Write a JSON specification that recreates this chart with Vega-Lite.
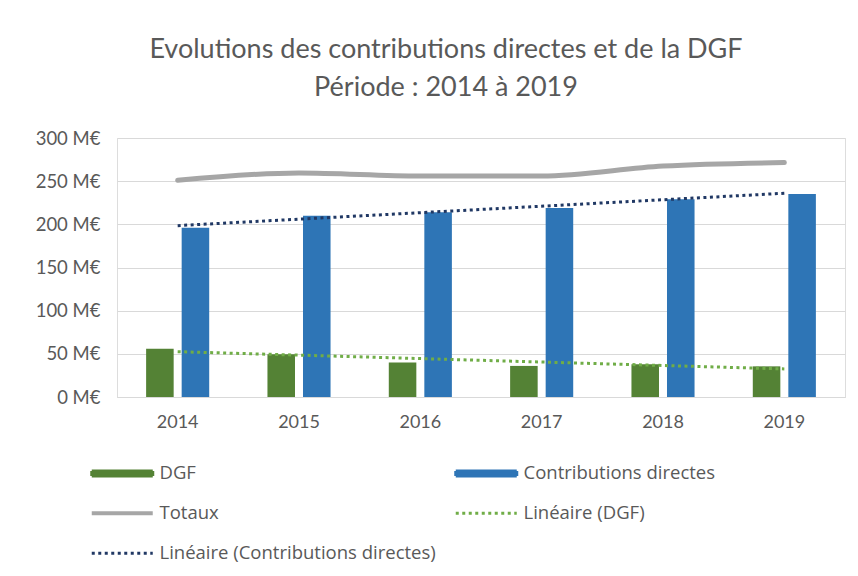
{
  "$schema": "https://vega.github.io/schema/vega-lite/v6.json",
  "width": 728,
  "height": 259,
  "autosize": "none",
  "padding": {"left": 117, "top": 138, "right": 13, "bottom": 179},
  "background": "white",
  "title": {
    "text": ["Evolutions des contributions directes et de la DGF", "Période : 2014 à 2019"],
    "fontSize": 27,
    "font": "Lato",
    "fontWeight": "normal",
    "color": "#595959",
    "lineHeight": 38,
    "anchor": "middle",
    "dx": -35,
    "offset": 27
  },
  "data": {
    "values": [
      {"Annee": 2014, "serie": "DGF", "valeur": 56},
      {"Annee": 2015, "serie": "DGF", "valeur": 49.5},
      {"Annee": 2016, "serie": "DGF", "valeur": 40},
      {"Annee": 2017, "serie": "DGF", "valeur": 36},
      {"Annee": 2018, "serie": "DGF", "valeur": 38},
      {"Annee": 2019, "serie": "DGF", "valeur": 35.5},
      {"Annee": 2014, "serie": "Contributions directes", "valeur": 196},
      {"Annee": 2015, "serie": "Contributions directes", "valeur": 210},
      {"Annee": 2016, "serie": "Contributions directes", "valeur": 214},
      {"Annee": 2017, "serie": "Contributions directes", "valeur": 219},
      {"Annee": 2018, "serie": "Contributions directes", "valeur": 229},
      {"Annee": 2019, "serie": "Contributions directes", "valeur": 235},
      {"Annee": 2014, "serie": "Totaux", "valeur": 251},
      {"Annee": 2015, "serie": "Totaux", "valeur": 259.5},
      {"Annee": 2016, "serie": "Totaux", "valeur": 256},
      {"Annee": 2017, "serie": "Totaux", "valeur": 256},
      {"Annee": 2018, "serie": "Totaux", "valeur": 267.5},
      {"Annee": 2019, "serie": "Totaux", "valeur": 271.5},
      {"Annee": 2014, "serie": "Linéaire (DGF)", "valeur": 52.5},
      {"Annee": 2019, "serie": "Linéaire (DGF)", "valeur": 32.5},
      {"Annee": 2014, "serie": "Linéaire (Contributions directes)", "valeur": 198.5},
      {"Annee": 2019, "serie": "Linéaire (Contributions directes)", "valeur": 236}
    ]
  },
  "encoding": {
    "x": {
      "field": "Annee",
      "type": "ordinal",
      "scale": {"paddingInner": 0.48, "paddingOuter": 0.24},
      "axis": {
        "title": null,
        "labelAngle": 0,
        "labelFont": "Lato",
        "labelFontSize": 18,
        "labelColor": "#595959",
        "labelPadding": 16,
        "ticks": false,
        "domainColor": "#d9d9d9",
        "domainWidth": 1
      }
    },
    "y": {
      "field": "valeur",
      "type": "quantitative",
      "scale": {"domain": [0, 300]},
      "axis": {
        "title": null,
        "values": [0, 50, 100, 150, 200, 250, 300],
        "labelExpr": "datum.value + ' M€'",
        "labelFont": "Lato",
        "labelFontSize": 18.5,
        "labelColor": "#595959",
        "labelPadding": 17,
        "ticks": false,
        "domain": false,
        "gridColor": "#d9d9d9",
        "gridWidth": 1
      }
    },
    "color": {
      "field": "serie",
      "type": "nominal",
      "scale": {
        "domain": ["DGF", "Contributions directes", "Totaux", "Linéaire (DGF)", "Linéaire (Contributions directes)"],
        "range": ["#548235", "#2e75b6", "#a6a6a6", "#70ad47", "#203864"]
      },
      "legend": {
        "title": null,
        "orient": "none",
        "legendX": -4,
        "legendY": 326,
        "direction": "horizontal",
        "columns": 2,
        "columnPadding": 13,
        "rowPadding": 21,
        "labelFont": "Open Sans",
        "labelFontSize": 18.5,
        "labelColor": "#595959",
        "labelLimit": 0,
        "labelOffset": 28,
        "symbolSize": 400,
        "encode": {
          "symbols": {
            "update": {
              "shape": {"signal": "(datum.value=='DGF'||datum.value=='Contributions directes') ? 'M-3.05,-0.25H3.05V0.25H-3.05Z' : 'M-3.05,0H3.05'"},
              "fill": {"signal": "datum.value=='DGF' ? '#548235' : datum.value=='Contributions directes' ? '#2e75b6' : 'transparent'"},
              "stroke": {"signal": "datum.value=='Totaux' ? '#a6a6a6' : datum.value=='Linéaire (DGF)' ? '#70ad47' : datum.value=='Linéaire (Contributions directes)' ? '#203864' : 'transparent'"},
              "strokeWidth": {"signal": "datum.value=='Totaux' ? 4 : 3"},
              "strokeDash": {"signal": "indexof(datum.value,'Linéaire')==0 ? [3,3.5] : [1,0]"},
              "opacity": {"value": 1}
            }
          }
        }
      }
    }
  },
  "layer": [
    {
      "transform": [{"filter": "datum.serie=='DGF' || datum.serie=='Contributions directes'"}],
      "mark": {"type": "bar"},
      "encoding": {
        "xOffset": {
          "field": "serie",
          "type": "nominal",
          "sort": ["DGF", "Contributions directes"],
          "scale": {"paddingInner": 0.225, "paddingOuter": 0}
        }
      }
    },
    {
      "transform": [{"filter": "datum.serie=='Totaux'"}],
      "mark": {"type": "line", "strokeWidth": 5, "interpolate": "monotone", "strokeCap": "round"},
      "encoding": {}
    },
    {
      "transform": [{"filter": "datum.serie=='Linéaire (DGF)'"}],
      "mark": {"type": "line", "strokeWidth": 3, "strokeDash": [3, 3.5]},
      "encoding": {}
    },
    {
      "transform": [{"filter": "datum.serie=='Linéaire (Contributions directes)'"}],
      "mark": {"type": "line", "strokeWidth": 3, "strokeDash": [3, 3.5]},
      "encoding": {}
    }
  ]
}
